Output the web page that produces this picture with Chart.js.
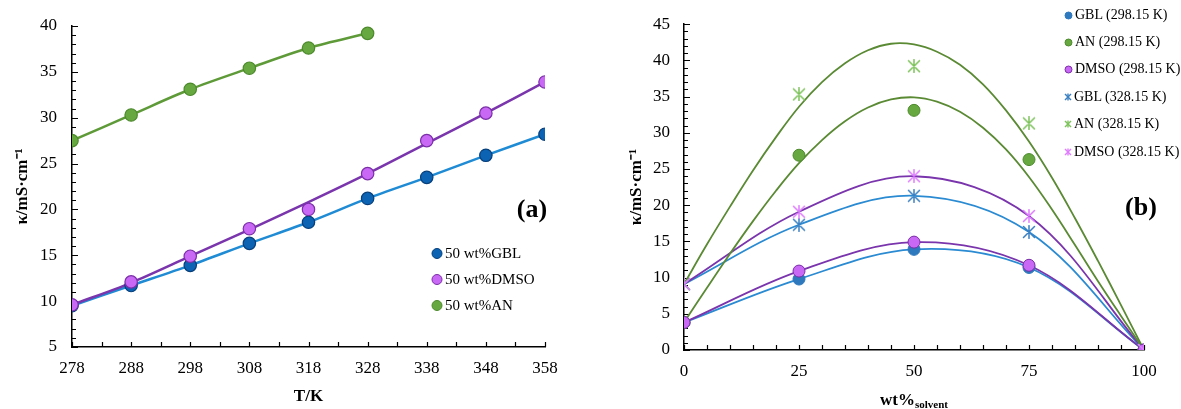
<!DOCTYPE html>
<html><head><meta charset="utf-8">
<script src="https://cdn.jsdelivr.net/npm/chart.js@4.4.1/dist/chart.umd.min.js"></script>
<style>
html,body{margin:0;padding:0;background:#fff;}
#wrap{position:relative;width:1181px;height:409px;overflow:hidden;font-family:"Liberation Serif","Times New Roman",serif;color:#000;}
canvas{position:absolute;top:0;}
#ca{left:0;}
#cb{left:590px;}
.lab{position:absolute;transform:translate(-50%,-50%);white-space:nowrap;}
.big{font-weight:bold;font-size:26px;}
.leg{position:absolute;display:flex;align-items:center;white-space:nowrap;transform:translateY(-50%);font-size:15px;}
.legb{font-size:14px;}
.leg svg{margin-right:2px;}
.xt{font-weight:bold;font-size:17px;}
.xt sub{font-size:11px;vertical-align:-3px;}
</style>
</head>
<body>
<div id="wrap">
<canvas id="ca" width="590" height="409"></canvas>
<canvas id="cb" width="591" height="409"></canvas>
<div class="lab big" style="left:532px;top:209px;">(a)</div>
<div class="lab big" style="left:1141px;top:207px;">(b)</div>
<div class="lab xt" style="left:914px;top:400px;">wt%<sub>solvent</sub></div>
<div id="legA"></div>
<div id="legB"></div>
</div>
<script>
// ---------- data: panel (a) ----------
const tempK = [278, 288, 298, 308, 318, 328, 338, 348, 358];
const gbl50 = [9.5, 11.7, 13.9, 16.3, 18.6, 21.2, 23.5, 25.9, 28.2];
const dmso50 = [9.6, 12.1, 14.9, 17.9, 20.0, 23.9, 27.5, 30.5, 33.9];
const dmso50Line = [9.6, 12.0, 14.9, 17.8, 20.8, 23.9, 27.2, 30.5, 33.9];
const an50 = [27.5, 30.3, 33.1, 35.4, 37.6, 39.2];
const legendA = ['50 wt%GBL', '50 wt%DMSO', '50 wt%AN'];

// ---------- data: panel (b) ----------
const wtSolvent = [0, 25, 50, 75, 100];
const gbl298 = [3.8, 9.8, 13.9, 11.4, 0];
const an298 = [3.8, 26.9, 33.1, 26.3, 0];
const dmso298 = [3.8, 10.9, 14.9, 11.7, 0];
const gbl328 = [9.1, 17.3, 21.3, 16.3, 0];
const an328 = [9.1, 35.3, 39.2, 31.3, 0];
const dmso328 = [9.1, 19.1, 24.0, 18.5, 0];
const fitX = [0, 5, 10, 15, 20, 25, 30, 35, 40, 45, 50, 55, 60, 65, 70, 75, 80, 85, 90, 95, 100];
const an298Fit = [3.8, 8.6, 13.3, 17.8, 22.0, 25.8, 29.0, 31.6, 33.5, 34.6, 34.9, 34.3, 32.9, 30.7, 27.7, 23.9, 19.4, 14.5, 9.5, 4.7, 0];
const an328Fit = [9.1, 14.6, 19.8, 24.8, 29.4, 33.6, 37.0, 39.6, 41.4, 42.3, 42.2, 41.2, 39.4, 36.7, 33.1, 28.8, 23.8, 18.2, 12.3, 6.2, 0];
const legendB = ['GBL (298.15 K)', 'AN (298.15 K)', 'DMSO (298.15 K)', 'GBL (328.15 K)', 'AN (328.15 K)', 'DMSO (328.15 K)'];

const F = "'Liberation Serif','Times New Roman',serif";
const pts = (xs, ys) => ys.map((y, i) => ({x: xs[i], y}));

// colours
const C = {
  gblLineA: '#1f8bd4', gblPtA: '#0c63b3', gblPtBorderA: '#053f7c',
  dmsoLine: '#7a35ad', dmsoPt: '#c868f5', dmsoBorder: '#7a2fa8',
  anLineA: '#5e9a38', anPt: '#67a841', anBorder: '#4d8a2c',
  gblLineB: '#2a8ad2', gblPtB: '#2e78bd',
  anLineB: '#5a8a33',
  gblStar: '#3a80c2', anStar: '#7cc25a', dmsoStar: '#df7cff'
};

function starCanvas(color, size) {
  const c = document.createElement('canvas');
  c.width = size; c.height = size;
  const g = c.getContext('2d');
  g.strokeStyle = color; g.lineWidth = 1.5; g.lineCap = 'round';
  const m = 1.5, s = size - 1.5, h = size / 2;
  g.beginPath();
  g.moveTo(m, m); g.lineTo(s, s);
  g.moveTo(s, m); g.lineTo(m, s);
  g.moveTo(h, m - 0.8); g.lineTo(h, s + 0.8);
  g.stroke();
  return c;
}

function innerTicks(id) {
  return {
    id,
    beforeDatasetsDraw(chart, args, o) {
      const ctx = chart.ctx, xs = chart.scales.x, ys = chart.scales.y;
      ctx.save();
      ctx.strokeStyle = '#000'; ctx.lineWidth = 1.2;
      ctx.beginPath();
      for (let v = o.xMin; v <= o.xMax + 1e-9; v += o.xStep) {
        const px = Math.round(xs.getPixelForValue(v)) + 0.5;
        ctx.moveTo(px, xs.top); ctx.lineTo(px, xs.top - o.xLen);
      }
      for (let v = o.yMin; v <= o.yMax + 1e-9; v += o.yMinor) {
        const py = Math.round(ys.getPixelForValue(v)) + 0.5;
        const major = Math.abs((v - o.yMin) / o.yMajor - Math.round((v - o.yMin) / o.yMajor)) < 1e-6;
        ctx.moveTo(ys.right, py); ctx.lineTo(ys.right + (major ? o.yLenMajor : o.yLenMinor), py);
      }
      ctx.stroke();
      ctx.restore();
    }
  };
}

const axisCommon = {
  grid: {display: true, drawOnChartArea: false, drawTicks: false},
  border: {display: true, color: '#000', width: 1.5}
};

// ---------- chart (a) ----------
new Chart(document.getElementById('ca'), {
  type: 'line',
  data: {
    datasets: [
      {data: pts(tempK, gbl50), borderColor: C.gblLineA, borderWidth: 2.5, pointRadius: 0, tension: 0.3, fill: false, order: 12},
      {data: pts(tempK, dmso50Line), borderColor: C.dmsoLine, borderWidth: 2.5, pointRadius: 0, tension: 0.3, fill: false, order: 11},
      {data: pts(tempK, an50), borderColor: C.anLineA, borderWidth: 2.5, pointRadius: 0, tension: 0.3, fill: false, order: 10},
      {data: pts(tempK, gbl50), showLine: false, pointRadius: 6.2, pointBackgroundColor: C.gblPtA, pointBorderColor: C.gblPtBorderA, pointBorderWidth: 1.2, order: 2},
      {data: pts(tempK, dmso50), showLine: false, pointRadius: 6.2, pointBackgroundColor: C.dmsoPt, pointBorderColor: C.dmsoBorder, pointBorderWidth: 1.2, order: 1},
      {data: pts(tempK, an50), showLine: false, pointRadius: 6.2, pointBackgroundColor: C.anPt, pointBorderColor: C.anBorder, pointBorderWidth: 1.2, order: 0}
    ]
  },
  options: {
    responsive: false, animation: false, devicePixelRatio: 1,
    events: [],
    layout: {padding: {left: 0, right: 45, top: 26, bottom: 0}},
    plugins: {legend: {display: false}, tooltip: {enabled: false},
      innerTicksA: {xMin: 278, xMax: 358, xStep: 5, xLen: 5, yMin: 5, yMax: 40, yMinor: 1, yMajor: 5, yLenMajor: 6, yLenMinor: 4}},
    scales: {
      x: Object.assign({}, axisCommon, {
        type: 'linear', min: 278, max: 358,
        ticks: {stepSize: 10, color: '#000', font: {family: F, size: 17}, padding: 11, maxRotation: 0},
        title: {display: true, text: 'T/K', color: '#000', font: {family: F, size: 17, weight: 'bold'}, padding: {top: 0, bottom: 2}},
        afterFit(s) { s.height = 62; }
      }),
      y: Object.assign({}, axisCommon, {
        type: 'linear', min: 5, max: 40,
        ticks: {stepSize: 5, color: '#000', font: {family: F, size: 17}, padding: 15},
        title: {display: true, text: 'κ/mS·cm⁻¹', color: '#000', font: {family: F, size: 17, weight: 'bold'}, padding: {top: 12, bottom: 0}},
        afterFit(s) { s.width = 72; }
      })
    }
  },
  plugins: [innerTicks('innerTicksA')]
});

// ---------- chart (b) ----------
const starGbl = starCanvas(C.gblStar, 14);
const starAn = starCanvas(C.anStar, 14);
const starDmso = starCanvas(C.dmsoStar, 14);
const lineB = (xs, ys, color, order, t) => ({data: pts(xs, ys), borderColor: color, borderWidth: 1.8, pointRadius: 0, tension: t, fill: false, order});
const circB = (ys, fill, border, order) => ({data: pts(wtSolvent, ys), showLine: false, pointRadius: 6, pointBackgroundColor: fill, pointBorderColor: border, pointBorderWidth: 1, order});
const starB = (ys, img, order) => ({data: pts(wtSolvent, ys), showLine: false, pointStyle: img, pointRadius: 7, order});

new Chart(document.getElementById('cb'), {
  type: 'line',
  data: {
    datasets: [
      lineB(wtSolvent, gbl298, C.gblLineB, 20, 0.35),
      lineB(wtSolvent, dmso298, C.dmsoLine, 19, 0.35),
      lineB(wtSolvent, gbl328, C.gblLineB, 18, 0.35),
      lineB(wtSolvent, dmso328, C.dmsoLine, 17, 0.35),
      lineB(fitX, an298Fit, C.anLineB, 16, 0.4),
      lineB(fitX, an328Fit, C.anLineB, 15, 0.4),
      circB(gbl298, C.gblPtB, C.gblPtB, 6),
      circB(an298, C.anPt, C.anBorder, 5),
      starB(gbl328, starGbl, 4),
      starB(an328, starAn, 3),
      circB(dmso298, C.dmsoPt, C.dmsoBorder, 1),
      starB(dmso328, starDmso, 0)
    ]
  },
  options: {
    responsive: false, animation: false, devicePixelRatio: 1,
    events: [],
    layout: {padding: {left: 0, right: 37, top: 16, bottom: 0}},
    plugins: {legend: {display: false}, tooltip: {enabled: false},
      innerTicksB: {xMin: 0, xMax: 100, xStep: 5, xLen: 5, yMin: 0, yMax: 45, yMinor: 1, yMajor: 5, yLenMajor: 6, yLenMinor: 4}},
    scales: {
      x: Object.assign({}, axisCommon, {
        type: 'linear', min: 0, max: 100,
        ticks: {stepSize: 25, color: '#000', font: {family: F, size: 17}, padding: 11, maxRotation: 0},
        title: {display: false},
        afterFit(s) { s.height = 59; }
      }),
      y: Object.assign({}, axisCommon, {
        type: 'linear', min: 0, max: 45,
        ticks: {stepSize: 5, color: '#000', font: {family: F, size: 17}, padding: 14},
        title: {display: true, text: 'κ/mS·cm⁻¹', color: '#000', font: {family: F, size: 17, weight: 'bold'}, padding: {top: 36, bottom: 0}},
        afterFit(s) { s.width = 94; }
      })
    }
  },
  plugins: [innerTicks('innerTicksB')]
});

// ---------- legends ----------
function circleSvg(d, fill, stroke) {
  return `<svg width="${d + 2}" height="${d + 2}"><circle cx="${d / 2 + 1}" cy="${d / 2 + 1}" r="${d / 2}" fill="${fill}" stroke="${stroke}" stroke-width="1"/></svg>`;
}
function starSvg(d, color) {
  const a = 1, b = d - 1, h = d / 2;
  return `<svg width="${d}" height="${d}"><g stroke="${color}" stroke-width="1.4"><line x1="${a}" y1="${a}" x2="${b}" y2="${b}"/><line x1="${b}" y1="${a}" x2="${a}" y2="${b}"/><line x1="${h}" y1="${a - 0.5}" x2="${h}" y2="${b + 0.5}"/></g></svg>`;
}
const legA = document.getElementById('legA');
const legAY = [253, 279, 305];
const legAMk = [circleSvg(10, C.gblPtA, C.gblPtBorderA), circleSvg(10, C.dmsoPt, C.dmsoBorder), circleSvg(10, C.anPt, C.anBorder)];
legendA.forEach((t, i) => {
  const d = document.createElement('div');
  d.className = 'leg';
  d.style.left = '431px'; d.style.top = legAY[i] + 'px';
  d.innerHTML = legAMk[i] + '<span>' + t + '</span>';
  legA.appendChild(d);
});
const legB = document.getElementById('legB');
const legBY = [15, 42, 69, 97, 124, 152];
const legBMk = [circleSvg(7, C.gblPtB, C.gblPtB), circleSvg(7, C.anPt, C.anBorder), circleSvg(7, C.dmsoPt, C.dmsoBorder),
  starSvg(8, C.gblStar), starSvg(8, C.anStar), starSvg(8, C.dmsoStar)];
legendB.forEach((t, i) => {
  const d = document.createElement('div');
  d.className = 'leg legb';
  d.style.left = '1064px'; d.style.top = legBY[i] + 'px';
  d.innerHTML = legBMk[i] + '<span>' + t + '</span>';
  legB.appendChild(d);
});
</script>
</body></html>
